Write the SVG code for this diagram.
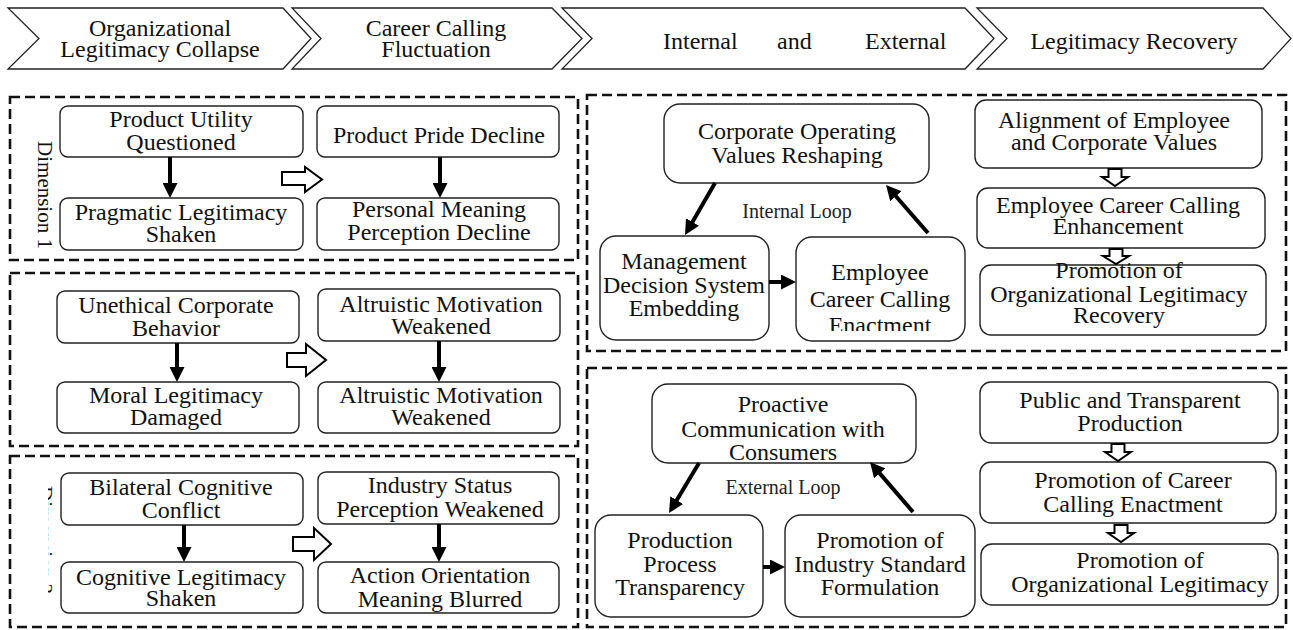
<svg xmlns="http://www.w3.org/2000/svg" width="1293" height="630" viewBox="0 0 1293 630" font-family="'Liberation Serif', 'Times New Roman', Times, serif">
  <style>
    text, tspan { font-family: "Liberation Serif", "Times New Roman", Times, serif; fill: #111; }
    .t { font-size: 24px; text-anchor: middle; }
    .loop { font-size: 20px; text-anchor: middle; fill: #222; }
    .dim { font-size: 21px; text-anchor: middle; }
    .chev { fill: #fff; stroke: #222; stroke-width: 1.3; }
    .box { fill: #fff; stroke: #222; stroke-width: 1.4; }
    .panel { fill: none; stroke: #111; stroke-width: 2.6; stroke-dasharray: 10 5; }
    .arr { stroke: #000; stroke-width: 4; fill: none; marker-end: url(#head); }
    .hollow { fill: #fff; stroke: #000; stroke-width: 2; stroke-linejoin: miter; }
  </style>
  <defs>
    <marker id="head" viewBox="0 0 10 10" refX="2" refY="5" markerWidth="15" markerHeight="15" markerUnits="userSpaceOnUse" orient="auto">
      <path d="M0,0 L10,5 L0,10 z" fill="#000"/>
    </marker>
    <clipPath id="dim3clip"><rect x="48" y="480" width="8" height="120"/></clipPath>
    <clipPath id="enactClip"><rect x="796" y="237" width="169" height="94"/></clipPath>
  </defs>

  <rect width="1293" height="630" fill="#fff"/>

  <!-- stage header -->
  <g id="stages">
    <g id="stage1">
      <polygon class="chev" points="8,8 283,8 311,38.5 283,69 8,69 39,38.5"/>
      <text class="t" x="160" y="36">Organizational<tspan x="160" y="57">Legitimacy Collapse</tspan></text>
    </g>
    <g id="stage2">
      <polygon class="chev" points="292,8 552,8 582,38.5 552,69 292,69 321,38.5"/>
      <text class="t" x="436" y="36">Career Calling<tspan x="436" y="57">Fluctuation</tspan></text>
    </g>
    <g id="stage3">
      <polygon class="chev" points="562,8 965,8 994,38.5 965,69 562,69 592,38.5"/>
      <text class="t" y="49" style="text-anchor:start"><tspan x="663">Internal</tspan><tspan x="777">and</tspan><tspan x="865">External</tspan></text>
    </g>
    <g id="stage4">
      <polygon class="chev" points="977,8 1263,8 1291,38.5 1263,69 977,69 1007,38.5"/>
      <text class="t" x="1134" y="49">Legitimacy Recovery</text>
    </g>
  </g>

  <!-- dashed panels -->
  <g id="panels">
    <rect id="dimension1" class="panel" x="10" y="97" width="568" height="163"/>
    <rect id="dimension2" class="panel" x="10" y="273" width="568" height="173"/>
    <rect id="dimension3" class="panel" x="10" y="456" width="568" height="171"/>
    <rect id="internalPanel" class="panel" x="587" y="95" width="699" height="256"/>
    <rect id="externalPanel" class="panel" x="587" y="368" width="699" height="259"/>
  </g>

  <!-- dimension labels -->
  <text class="dim" transform="translate(38,195) rotate(90)">Dimension 1</text>
  <g clip-path="url(#dim3clip)">
    <text class="dim" transform="translate(38,540) rotate(90)">Dimension 3</text>
  </g>

  <!-- dimension 1 -->
  <g id="productUtility">
    <rect class="box" x="60" y="106" width="243" height="51" rx="8"/>
    <text class="t" x="181" y="127">Product Utility<tspan x="181" y="150">Questioned</tspan></text>
  </g>
  <g id="pragmaticLegitimacy">
    <rect class="box" x="60" y="198" width="243" height="52" rx="8"/>
    <text class="t" x="181" y="220">Pragmatic Legitimacy<tspan x="181" y="242">Shaken</tspan></text>
  </g>
  <g id="productPride">
    <rect class="box" x="317" y="106" width="242" height="51" rx="8"/>
    <text class="t" x="439" y="143">Product Pride Decline</text>
  </g>
  <g id="personalMeaning">
    <rect class="box" x="317" y="198" width="242" height="52" rx="8"/>
    <text class="t" x="439" y="217">Personal Meaning<tspan x="439" y="240">Perception Decline</tspan></text>
  </g>

  <!-- dimension 2 -->
  <g id="unethicalBehavior">
    <rect class="box" x="57" y="291" width="242" height="52" rx="8"/>
    <text class="t" x="176" y="313">Unethical Corporate<tspan x="176" y="336">Behavior</tspan></text>
  </g>
  <g id="moralLegitimacy">
    <rect class="box" x="57" y="382" width="242" height="51" rx="8"/>
    <text class="t" x="176" y="403">Moral Legitimacy<tspan x="176" y="425">Damaged</tspan></text>
  </g>
  <g id="altruisticMotivation1">
    <rect class="box" x="318" y="289" width="242" height="52" rx="8"/>
    <text class="t" x="441" y="312">Altruistic Motivation<tspan x="441" y="334">Weakened</tspan></text>
  </g>
  <g id="altruisticMotivation2">
    <rect class="box" x="318" y="382" width="242" height="51" rx="8"/>
    <text class="t" x="441" y="403">Altruistic Motivation<tspan x="441" y="425">Weakened</tspan></text>
  </g>

  <!-- dimension 3 -->
  <g id="bilateralConflict">
    <rect class="box" x="61" y="473" width="242" height="52" rx="8"/>
    <text class="t" x="181" y="495">Bilateral Cognitive<tspan x="181" y="518">Conflict</tspan></text>
  </g>
  <g id="cognitiveLegitimacy">
    <rect class="box" x="61" y="562" width="242" height="51" rx="8"/>
    <text class="t" x="181" y="585">Cognitive Legitimacy<tspan x="181" y="606">Shaken</tspan></text>
  </g>
  <g id="industryStatus">
    <rect class="box" x="318" y="472" width="241" height="52" rx="8"/>
    <text class="t" x="440" y="493">Industry Status<tspan x="440" y="517">Perception Weakened</tspan></text>
  </g>
  <g id="actionOrientation">
    <rect class="box" x="318" y="562" width="241" height="51" rx="8"/>
    <text class="t" x="440" y="583">Action Orientation<tspan x="440" y="607">Meaning Blurred</tspan></text>
  </g>

  <!-- internal loop -->
  <g id="corporateValues">
    <rect class="box" x="664" y="104" width="265" height="79" rx="16"/>
    <text class="t" x="797" y="139">Corporate Operating<tspan x="797" y="163">Values Reshaping</tspan></text>
  </g>
  <g id="managementDecision">
    <rect class="box" x="600" y="236" width="169" height="104" rx="16"/>
    <text class="t" x="684" y="269">Management<tspan x="684" y="293">Decision System</tspan><tspan x="684" y="316">Embedding</tspan></text>
  </g>
  <g id="employeeEnactment">
    <rect class="box" x="796" y="237" width="169" height="104" rx="16"/>
    <text class="t" x="880" y="280" clip-path="url(#enactClip)">Employee<tspan x="880" y="307">Career Calling</tspan><tspan x="880" y="333">Enactment</tspan></text>
  </g>
  <text id="internalLoopLabel" class="loop" x="797" y="218">Internal Loop</text>

  <g id="valueAlignment">
    <rect class="box" x="975" y="100" width="287" height="68" rx="11"/>
    <text class="t" x="1114" y="128">Alignment of Employee<tspan x="1114" y="150">and Corporate Values</tspan></text>
  </g>
  <g id="callingEnhancement">
    <rect class="box" x="977" y="188" width="288" height="60" rx="11"/>
    <text class="t" x="1118" y="213">Employee Career Calling<tspan x="1118" y="234">Enhancement</tspan></text>
  </g>
  <g id="legitimacyRecovery">
    <rect class="box" x="980" y="265" width="286" height="70" rx="11"/>
    <text class="t" x="1119" y="278">Promotion of<tspan x="1119" y="302">Organizational Legitimacy</tspan><tspan x="1119" y="323">Recovery</tspan></text>
  </g>

  <!-- external loop -->
  <g id="proactiveCommunication">
    <rect class="box" x="652" y="384" width="264" height="79" rx="16"/>
    <text class="t" x="783" y="412">Proactive<tspan x="783" y="437">Communication with</tspan><tspan x="783" y="460">Consumers</tspan></text>
  </g>
  <g id="processTransparency">
    <rect class="box" x="595" y="515" width="168" height="102" rx="16"/>
    <text class="t" x="680" y="548">Production<tspan x="680" y="572">Process</tspan><tspan x="680" y="595">Transparency</tspan></text>
  </g>
  <g id="industryStandard">
    <rect class="box" x="785" y="515" width="190" height="102" rx="16"/>
    <text class="t" x="880" y="548">Promotion of<tspan x="880" y="572">Industry Standard</tspan><tspan x="880" y="595">Formulation</tspan></text>
  </g>
  <text id="externalLoopLabel" class="loop" x="783" y="494">External Loop</text>

  <g id="transparentProduction">
    <rect class="box" x="980" y="382" width="298" height="61" rx="11"/>
    <text class="t" x="1130" y="408">Public and Transparent<tspan x="1130" y="431">Production</tspan></text>
  </g>
  <g id="enactmentPromotion">
    <rect class="box" x="980" y="462" width="296" height="61" rx="11"/>
    <text class="t" x="1133" y="488">Promotion of Career<tspan x="1133" y="512">Calling Enactment</tspan></text>
  </g>
  <g id="legitimacyPromotion">
    <rect class="box" x="981" y="544" width="297" height="61" rx="11"/>
    <text class="t" x="1140" y="568">Promotion of<tspan x="1140" y="592">Organizational Legitimacy</tspan></text>
  </g>

  <!-- connectors -->
  <g id="connectors">
    <!-- dimension chains -->
    <line class="arr" x1="170" y1="157" x2="170" y2="186"/>
    <line class="arr" x1="440" y1="157" x2="440" y2="186"/>
    <line class="arr" x1="177" y1="343" x2="177" y2="370"/>
    <line class="arr" x1="439" y1="341" x2="439" y2="370"/>
    <line class="arr" x1="184" y1="525" x2="184" y2="550"/>
    <line class="arr" x1="439" y1="524" x2="439" y2="550"/>
    <path class="hollow" d="M282,172 H305 V167 L322,179.5 L305,192 V185 H282 Z"/>
    <path class="hollow" d="M287,353 H306 V344 L326,360 L306,376 V367 H287 Z"/>
    <path class="hollow" d="M293,537 H314 V528 L331,544 L314,560 V551 H293 Z"/>

    <!-- internal loop -->
    <line class="arr" x1="715" y1="183" x2="691" y2="224.6"/>
    <line class="arr" x1="769" y1="282" x2="784" y2="282"/>
    <line class="arr" x1="928" y1="233" x2="893.9" y2="194"/>

    <!-- external loop -->
    <line class="arr" x1="699" y1="463" x2="675.2" y2="502.7"/>
    <line class="arr" x1="763" y1="567" x2="773" y2="567"/>
    <line class="arr" x1="913" y1="512" x2="877.8" y2="471.1"/>

    <!-- right-hand chains -->
    <path class="hollow" d="M1108.5,169 H1121.5 V177 H1128 L1115,186 L1102,177 H1108.5 Z"/>
    <path class="hollow" d="M1109.5,249 H1122.5 V256 H1129 L1116,264 L1103,256 H1109.5 Z"/>
    <path class="hollow" d="M1111.5,444 H1124.5 V452 H1131 L1118,461 L1105,452 H1111.5 Z"/>
    <path class="hollow" d="M1114.5,525 H1127.5 V533 H1134 L1121,542 L1108,533 H1114.5 Z"/>
  </g>
</svg>
